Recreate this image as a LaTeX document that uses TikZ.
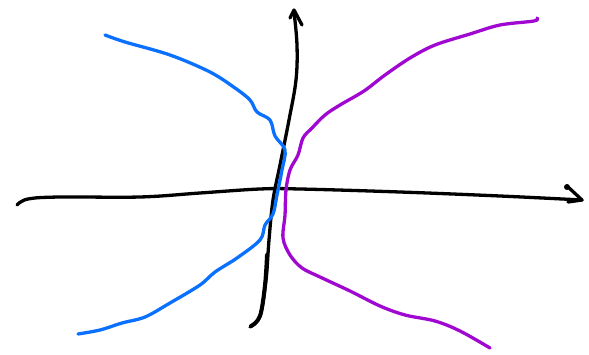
\documentclass[tikz,border=0pt]{standalone}
\usetikzlibrary{calc}
\definecolor{sketchblue}{RGB}{10,112,255}
\definecolor{sketchpurple}{RGB}{160,8,210}
\begin{document}
\begin{tikzpicture}[x=1pt,y=-1pt,
  stroke/.style={line width=3.3pt,line cap=round,line join=round},
  axis/.style={stroke,black}]
\useasboundingbox (0,0) rectangle (589,355);
% horizontal axis
\draw[axis] plot[smooth,tension=0.6] coordinates {(17,205) (28,199) (60,197) (140,197) (200,193) (260,189) (300,189) (400,192) (500,196) (582,200)};
\draw[axis] (567,186) -- (582,200) -- (568,202);
\fill (567,187) circle (3pt);
% vertical axis
\draw[axis] plot[smooth,tension=0.6] coordinates {(250,327) (260,316) (266,280) (269,240) (273,200) (280,165) (289,120) (296,80) (297,45) (294,12)};
\draw[axis,line width=4pt] plot[smooth,tension=0.6] coordinates {(251,326) (260,316) (265,285) (267,255)};
\draw[axis] (290,18) -- (294,10) -- (302,25);
% blue curve
\draw[stroke,sketchblue] plot[smooth,tension=0.55] coordinates {(105,35) (125,42) (170,55) (210,72) (235,88) (250,100) (257,112) (270,120) (275,136) (285,150) (282,170) (277,195) (273,214) (265,225) (260,240) (237,258) (215,272) (200,285) (170,303) (145,317) (122,323) (100,330) (78,334)};
% purple curve
\draw[stroke,sketchpurple] plot[smooth,tension=0.55] coordinates {(537,18) (534,21) (500,25) (470,34) (435,45) (410,58) (385,75) (364,91) (340,105) (325,115) (312,128) (303,138) (298,155) (290,170) (286,190) (285,215) (283,238) (290,255) (302,268) (320,277) (350,291) (380,306) (405,315) (435,321) (460,331) (490,348)};
\end{tikzpicture}
\end{document}
